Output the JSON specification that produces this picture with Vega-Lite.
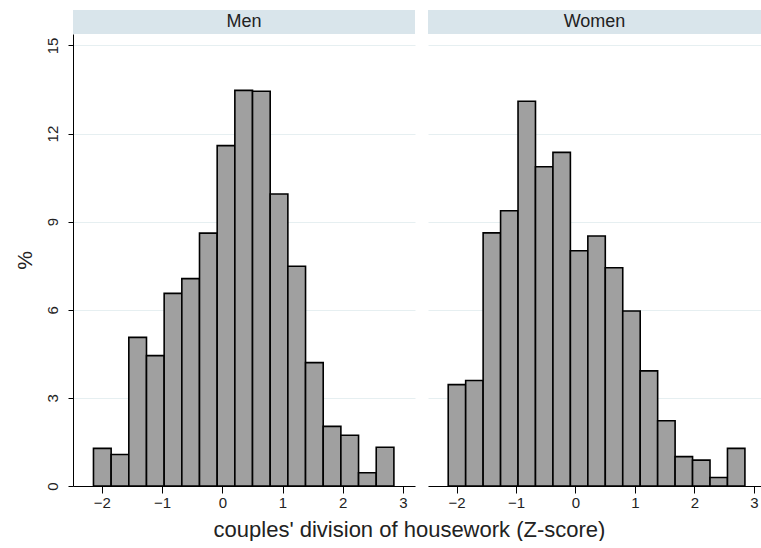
{
  "$schema": "https://vega.github.io/schema/vega-lite/v6.json",
  "background": "white",
  "padding": {"left": 14, "top": 10, "right": 0, "bottom": 0},
  "datasets": {
    "hist": [
      {"gender": "Men", "x0": -2.1400, "x1": -1.8465, "pct": 1.28},
      {"gender": "Men", "x0": -1.8465, "x1": -1.5530, "pct": 1.07},
      {"gender": "Men", "x0": -1.5530, "x1": -1.2595, "pct": 5.06},
      {"gender": "Men", "x0": -1.2595, "x1": -0.9660, "pct": 4.44},
      {"gender": "Men", "x0": -0.9660, "x1": -0.6725, "pct": 6.56},
      {"gender": "Men", "x0": -0.6725, "x1": -0.3790, "pct": 7.06},
      {"gender": "Men", "x0": -0.3790, "x1": -0.0855, "pct": 8.61},
      {"gender": "Men", "x0": -0.0855, "x1": 0.2080, "pct": 11.59},
      {"gender": "Men", "x0": 0.2080, "x1": 0.5015, "pct": 13.47},
      {"gender": "Men", "x0": 0.5015, "x1": 0.7950, "pct": 13.44},
      {"gender": "Men", "x0": 0.7950, "x1": 1.0885, "pct": 9.94},
      {"gender": "Men", "x0": 1.0885, "x1": 1.3820, "pct": 7.48},
      {"gender": "Men", "x0": 1.3820, "x1": 1.6755, "pct": 4.20},
      {"gender": "Men", "x0": 1.6755, "x1": 1.9690, "pct": 2.03},
      {"gender": "Men", "x0": 1.9690, "x1": 2.2625, "pct": 1.73},
      {"gender": "Men", "x0": 2.2625, "x1": 2.5560, "pct": 0.45},
      {"gender": "Men", "x0": 2.5560, "x1": 2.8495, "pct": 1.32},
      {"gender": "Women", "x0": -2.1400, "x1": -1.8465, "pct": 3.45},
      {"gender": "Women", "x0": -1.8465, "x1": -1.5530, "pct": 3.59},
      {"gender": "Women", "x0": -1.5530, "x1": -1.2595, "pct": 8.62},
      {"gender": "Women", "x0": -1.2595, "x1": -0.9660, "pct": 9.37},
      {"gender": "Women", "x0": -0.9660, "x1": -0.6725, "pct": 13.10},
      {"gender": "Women", "x0": -0.6725, "x1": -0.3790, "pct": 10.87},
      {"gender": "Women", "x0": -0.3790, "x1": -0.0855, "pct": 11.36},
      {"gender": "Women", "x0": -0.0855, "x1": 0.2080, "pct": 8.01},
      {"gender": "Women", "x0": 0.2080, "x1": 0.5015, "pct": 8.51},
      {"gender": "Women", "x0": 0.5015, "x1": 0.7950, "pct": 7.43},
      {"gender": "Women", "x0": 0.7950, "x1": 1.0885, "pct": 5.96},
      {"gender": "Women", "x0": 1.0885, "x1": 1.3820, "pct": 3.92},
      {"gender": "Women", "x0": 1.3820, "x1": 1.6755, "pct": 2.22},
      {"gender": "Women", "x0": 1.6755, "x1": 1.9690, "pct": 1.00},
      {"gender": "Women", "x0": 1.9690, "x1": 2.2625, "pct": 0.88},
      {"gender": "Women", "x0": 2.2625, "x1": 2.5560, "pct": 0.29},
      {"gender": "Women", "x0": 2.5560, "x1": 2.8495, "pct": 1.28}
    ]
  },
  "config": {
    "view": {"stroke": null},
    "font": "Liberation Sans",
    "axis": {
      "labelFont": "Liberation Sans",
      "titleFont": "Liberation Sans",
      "labelFontSize": 15,
      "labelColor": "#222222",
      "titleColor": "#222222",
      "titleFontSize": 21,
      "titleFontWeight": "normal",
      "domainColor": "#000000",
      "domainWidth": 1,
      "tickColor": "#000000",
      "tickWidth": 1,
      "gridColor": "#E6EFF1",
      "gridWidth": 1
    }
  },
  "title": {
    "text": "couples' division of housework (Z-score)",
    "orient": "bottom",
    "anchor": "middle",
    "font": "Liberation Sans",
    "fontSize": 22,
    "fontWeight": "normal",
    "color": "#222222",
    "offset": 10,
    "dx": 22
  },
  "spacing": 13,
  "hconcat": [
    {
      "spacing": 0,
      "bounds": "flush",
      "vconcat": [
        {
          "width": 342,
          "height": 24,
          "data": {"values": [{"label": "Men"}]},
          "view": {"fill": "#D9E5EB", "stroke": null},
          "mark": {"type": "text", "fontSize": 18, "color": "#222222", "font": "Liberation Sans"},
          "encoding": {"text": {"field": "label", "type": "nominal"}}
        },
        {
          "width": 342,
          "height": 452,
          "data": {"name": "hist"},
          "transform": [{"filter": "datum.gender == 'Men'"}],
          "mark": {"type": "bar", "fill": "#A0A0A0", "stroke": "#000000", "strokeWidth": 1.6},
          "encoding": {
            "x": {
              "field": "x0", "type": "quantitative",
              "scale": {"domain": [-2.48, 3.2], "nice": false, "zero": false},
              "axis": {"values": [-2, -1, 0, 1, 2, 3], "title": null, "grid": false, "tickSize": 7, "labelPadding": 2, "labelFlush": false}
            },
            "x2": {"field": "x1"},
            "y": {
              "field": "pct", "type": "quantitative",
              "scale": {"domain": [0, 15.39], "nice": false},
              "axis": {"values": [0, 3, 6, 9, 12, 15], "title": "%", "grid": true, "tickSize": 5, "labelAngle": -90, "labelAlign": "center", "labelBaseline": "alphabetic", "labelPadding": 11, "titlePadding": 10}
            },
            "y2": {"datum": 0}
          }
        }
      ]
    },
    {
      "spacing": 0,
      "bounds": "flush",
      "vconcat": [
        {
          "width": 333,
          "height": 24,
          "data": {"values": [{"label": "Women"}]},
          "view": {"fill": "#D9E5EB", "stroke": null},
          "mark": {"type": "text", "fontSize": 18, "color": "#222222", "font": "Liberation Sans"},
          "encoding": {"text": {"field": "label", "type": "nominal"}}
        },
        {
          "width": 333,
          "height": 452,
          "data": {"name": "hist"},
          "transform": [{"filter": "datum.gender == 'Women'"}],
          "mark": {"type": "bar", "fill": "#A0A0A0", "stroke": "#000000", "strokeWidth": 1.6},
          "encoding": {
            "x": {
              "field": "x0", "type": "quantitative",
              "scale": {"domain": [-2.48, 3.12], "nice": false, "zero": false},
              "axis": {"values": [-2, -1, 0, 1, 2, 3], "title": null, "grid": false, "tickSize": 7, "labelPadding": 2, "labelFlush": false}
            },
            "x2": {"field": "x1"},
            "y": {
              "field": "pct", "type": "quantitative",
              "scale": {"domain": [0, 15.39], "nice": false},
              "axis": {"values": [0, 3, 6, 9, 12, 15], "title": null, "grid": true, "labels": false, "ticks": false, "domain": false}
            },
            "y2": {"datum": 0}
          }
        }
      ]
    }
  ]
}
